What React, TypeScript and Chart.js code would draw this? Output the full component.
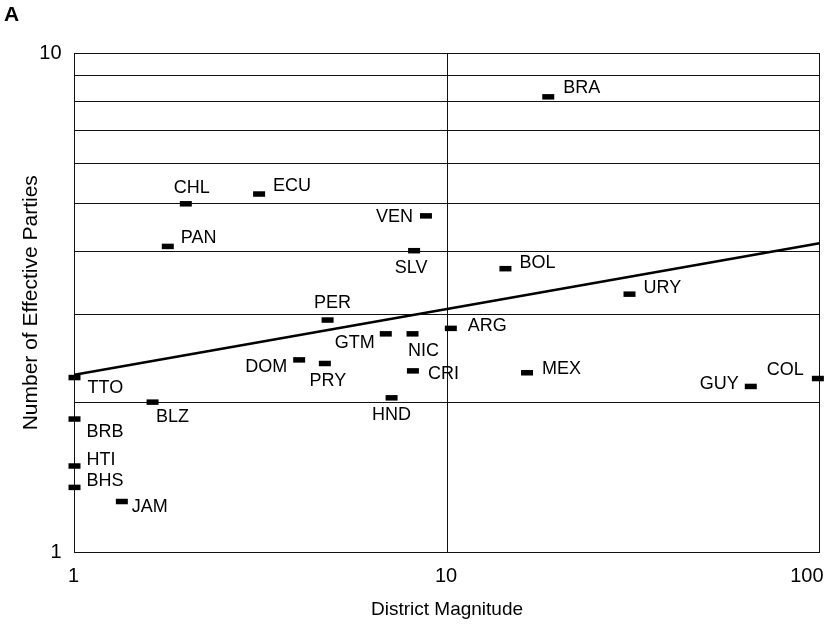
import React, { useEffect, useRef } from 'react';
import { Chart, registerables } from 'chart.js';

Chart.register(...registerables);

// ---- Data ----
const codes = ['BRA', 'CHL', 'ECU', 'PAN', 'VEN', 'SLV', 'BOL', 'URY', 'GUY', 'COL', 'TTO', 'BLZ', 'DOM', 'PRY', 'PER', 'GTM', 'NIC', 'CRI', 'ARG', 'MEX', 'HND', 'BRB', 'HTI', 'BHS', 'JAM'];
const districtMagnitude = [18.7, 1.99, 3.13, 1.78, 8.78, 8.16, 14.35, 30.9, 65.4, 99, 1, 1.62, 4.01, 4.7, 4.78, 6.85, 8.08, 8.1, 10.24, 16.4, 7.1, 1, 1, 1, 1.34];
const effectiveParties = [8.17, 4.99, 5.22, 4.1, 4.72, 4.02, 3.7, 3.29, 2.15, 2.23, 2.24, 2.0, 2.43, 2.39, 2.92, 2.74, 2.74, 2.31, 2.81, 2.29, 2.04, 1.85, 1.49, 1.35, 1.265];
const fitLineX = [1, 100];
const fitLineY = [2.27, 4.16];
const xTickLabels = [1, 10, 100];
const yTickLabels = [1, 10];
const xGridValues = [1, 10, 100];
const yGridValues = [1, 2, 3, 4, 5, 6, 7, 8, 9, 10];
const xTitle = 'District Magnitude';
const yTitle = 'Number of Effective Parties';
const panelLabel = 'A';

// ---- Label placement (style, not data): [dx, dy, align] ----
const labelPlacement: Record<string, [number, number, CanvasTextAlign]> = {
  BRA: [15, -9, 'left'],
  CHL: [6, -16, 'center'],
  ECU: [14, -8, 'left'],
  PAN: [13, -8, 'left'],
  VEN: [-13, 1, 'right'],
  SLV: [-3, 17, 'center'],
  BOL: [14, -6, 'left'],
  URY: [14, -6, 'left'],
  GUY: [-12, -2, 'right'],
  COL: [-14, -8, 'right'],
  TTO: [13, 10, 'left'],
  BLZ: [20, 15, 'center'],
  DOM: [-12, 7, 'right'],
  PRY: [3, 18, 'center'],
  PER: [5, -17, 'center'],
  GTM: [-11, 9, 'right'],
  NIC: [11, 17, 'center'],
  CRI: [15, 3, 'left'],
  ARG: [17, -2, 'left'],
  MEX: [15, -4, 'left'],
  HND: [0, 17, 'center'],
  BRB: [12, 13, 'left'],
  HTI: [12, -6, 'left'],
  BHS: [12, -6, 'left'],
  JAM: [10, 6, 'left'],
};

const FONT = '"Liberation Sans", Arial, Helvetica, sans-serif';

export default function App() {
  const ref = useRef<HTMLCanvasElement>(null);

  useEffect(() => {
    if (!ref.current) return;
    Chart.defaults.font.family = FONT;
    Chart.defaults.color = '#000';

    const labelsPlugin = {
      id: 'customLabels',
      afterDatasetsDraw(chart: any) {
        const ctx = chart.ctx as CanvasRenderingContext2D;
        const meta = chart.getDatasetMeta(1);
        ctx.save();
        ctx.fillStyle = '#000';
        ctx.textBaseline = 'middle';
        ctx.font = `18px ${FONT}`;
        meta.data.forEach((pt: any, i: number) => {
          const p = labelPlacement[codes[i]] || [12, 0, 'left'];
          ctx.textAlign = p[2];
          ctx.fillText(codes[i], pt.x + p[0], pt.y + p[1]);
        });
        const xs = chart.scales.x;
        ctx.font = `20px ${FONT}`;
        xTickLabels.forEach((v, i) => {
          const px = xs.getPixelForValue(v);
          const last = i === xTickLabels.length - 1;
          ctx.textAlign = last ? 'right' : 'center';
          ctx.fillText(String(v), last ? px + 4 : px - 1, xs.top + 24);
        });
        ctx.font = `bold 21px ${FONT}`;
        ctx.textAlign = 'left';
        ctx.fillText(panelLabel, 4, 15);
        ctx.restore();
      },
    };

    const chart = new Chart(ref.current, {
      data: {
        datasets: [
          {
            type: 'line',
            data: fitLineX.map((x, i) => ({ x, y: fitLineY[i] })),
            borderColor: '#000',
            borderWidth: 2.6,
            pointRadius: 0,
            fill: false,
            tension: 0,
          },
          {
            type: 'scatter',
            data: districtMagnitude.map((x, i) => ({ x, y: effectiveParties[i] })),
            pointStyle: 'line',
            pointRadius: 6,
            pointBorderWidth: 5.5,
            pointBorderColor: '#000',
            pointBackgroundColor: '#000',
            clip: false as any,
          },
        ],
      } as any,
      options: {
        animation: false,
        responsive: true,
        maintainAspectRatio: false,
        events: [],
        layout: { padding: { top: 53, right: 9.5, bottom: 0, left: 0 } },
        plugins: { legend: { display: false }, tooltip: { enabled: false } },
        scales: {
          x: {
            type: 'logarithmic',
            min: 1,
            max: 100,
            afterFit: (s: any) => { s.height = 76.5; },
            afterBuildTicks: (s: any) => { s.ticks = xGridValues.map((v) => ({ value: v })); },
            ticks: { display: false, autoSkip: false },
            grid: { drawTicks: false, lineWidth: 1, color: '#111' },
            border: { display: true, color: '#111', width: 1 },
            title: {
              display: true,
              text: xTitle,
              font: { size: 19 },
              color: '#000',
              padding: { top: 0, bottom: 7.6 },
            },
          },
          y: {
            type: 'logarithmic',
            min: 1,
            max: 10,
            afterFit: (s: any) => { s.width = 74.5; },
            afterBuildTicks: (s: any) => { s.ticks = yGridValues.map((v) => ({ value: v })); },
            ticks: {
              autoSkip: false,
              padding: 13,
              font: { size: 20 },
              color: '#000',
              callback: (v: any) => (yTickLabels.includes(Number(v)) ? String(v) : ''),
            },
            grid: { drawTicks: false, lineWidth: 1, color: '#111' },
            border: { display: true, color: '#111', width: 1 },
            title: {
              display: true,
              text: yTitle,
              font: { size: 21 },
              color: '#000',
              padding: { top: 18.4, bottom: 0 },
            },
          },
        },
      } as any,
      plugins: [labelsPlugin],
    });

    return () => chart.destroy();
  }, []);

  return (
    <div style={{ position: 'absolute', left: 0, top: 0, width: 831, height: 629 }}>
      <canvas ref={ref} />
    </div>
  );
}
